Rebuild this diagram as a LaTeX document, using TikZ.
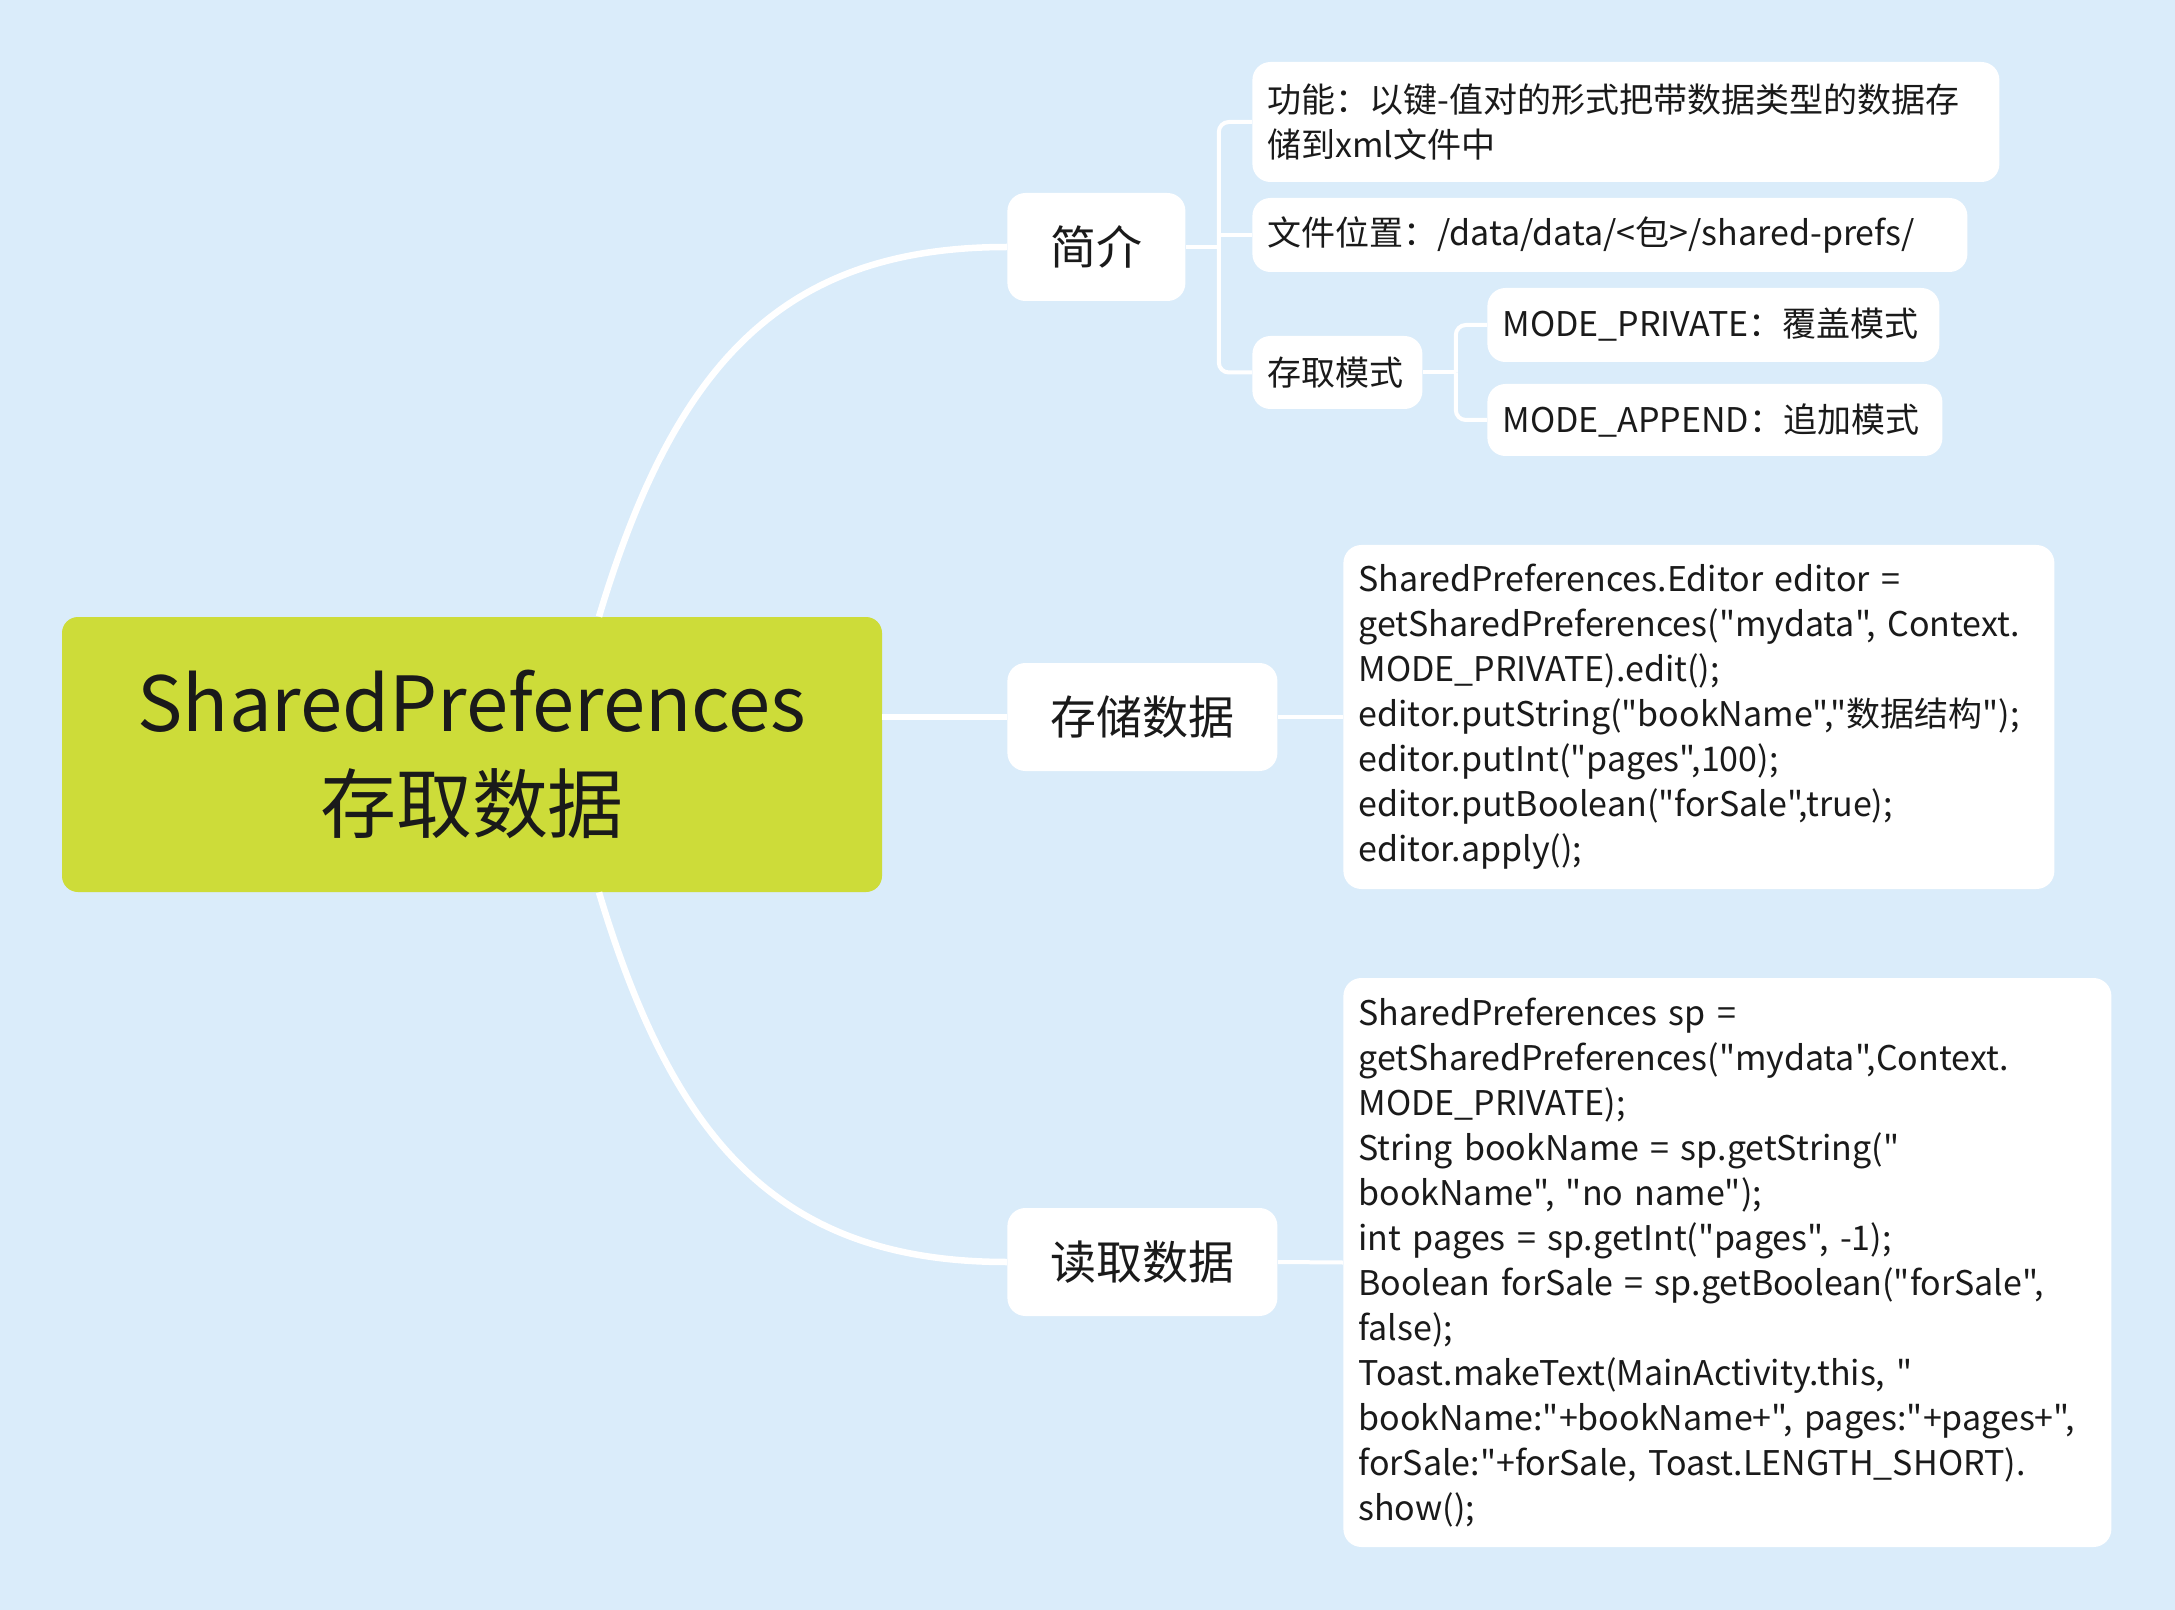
\documentclass[tikz,border=0pt]{standalone}
\usepackage{fontspec}
\newfontfamily\notosc{Noto Sans CJK SC}
\usetikzlibrary{positioning}
\definecolor{bgblue}{RGB}{218,236,250}
\definecolor{rootgreen}{RGB}{205,220,57}
\definecolor{inkgray}{RGB}{26,26,26}
\hyphenpenalty=10000
\exhyphenpenalty=10000

\begin{document}
\begin{tikzpicture}[x=0.5pt, y=-0.5pt,
    rootbox/.style={fill=rootgreen, rounded corners=8pt, text=inkgray, align=center,
        font=\notosc\fontsize{38pt}{50.5pt}\selectfont, minimum width=410pt, minimum height=137.5pt},
    topicbox/.style={fill=white, rounded corners=9pt, text=inkgray, anchor=west,
        font=\notosc\fontsize{23pt}{28pt}\selectfont, inner xsep=21.5pt, minimum height=54pt},
    leafbox/.style={fill=white, rounded corners=9pt, text=inkgray, anchor=west, align=left,
        font=\notosc\fontsize{17pt}{22.5pt}\selectfont, inner xsep=7.5pt, inner ysep=6pt},
    mainline/.style={draw=white, line width=3.25pt},
    subline/.style={draw=white, line width=2pt}
]
    % canvas, 1 unit = one pixel of the reference
    \fill[bgblue] (0,0) rectangle (2175,1610);
    \useasboundingbox (0,0) rectangle (2175,1610);

    % central topic
    \node[rootbox] (root) at (472,754.5) {SharedPreferences\\存取数据};

    % main branches
    \node[topicbox] (intro) at (1007,247) {简介};
    \node[topicbox] (store) at (1007,717) {存储数据};
    \node[topicbox] (read) at (1007,1262) {读取数据};

    % leaves of 简介
    \node[leafbox, text width=358.5pt, minimum height=60pt] (func) at (1252,122)
        {功能：以键-值对的形式把带数据类型的数据存\\储到xml文件中};
    \node[leafbox, text width=342.5pt, minimum height=37pt] (loc) at (1252,235)
        {文件位置：/data/data/<包>/shared-prefs/};
    \node[leafbox, text width=70pt, minimum height=36.5pt] (mode) at (1252,372.5) {存取模式};
    \node[leafbox, text width=211pt, minimum height=37pt] (priv) at (1487,325)
        {MODE\_PRIVATE：覆盖模式};
    \node[leafbox, text width=212.5pt, minimum height=36pt] (append) at (1487,420)
        {MODE\_APPEND：追加模式};

    % code blocks
    \node[leafbox, text width=340.5pt, minimum height=172pt] (putcode) at (1343,717)
        {SharedPreferences.Editor editor =\\
         getSharedPreferences("mydata", Context.\\
         MODE\_PRIVATE).edit();\\
         editor.putString("bookName","数据结构");\\
         editor.putInt("pages",100);\\
         editor.putBoolean("forSale",true);\\
         editor.apply();};
    \node[leafbox, text width=369pt, minimum height=284.5pt] (getcode) at (1343,1262.5)
        {SharedPreferences sp =\\
         getSharedPreferences("mydata",Context.\\
         MODE\_PRIVATE);\\
         String bookName = sp.getString("\\
         bookName", "no name");\\
         int pages = sp.getInt("pages", -1);\\
         Boolean forSale = sp.getBoolean("forSale",\\
         false);\\
         Toast.makeText(MainActivity.this, "\\
         bookName:"+bookName+", pages:"+pages+",\\
         forSale:"+forSale, Toast.LENGTH\_SHORT).\\
         show();};

    % root to branches
    \draw[mainline] ([xshift=63.5pt]root.north) .. controls +(37.5pt,125pt) and +(-113.5pt,0pt) .. (intro.west);
    \draw[mainline] ([xshift=63.5pt]root.south) .. controls +(37.5pt,-125pt) and +(-113.5pt,0pt) .. (read.west);
    \draw[mainline] (root.east |- store.west) -- (store.west);

    % brackets
    \coordinate (j1) at ([xshift=16.5pt]intro.east);
    \draw[subline] (intro.east) -- (j1);
    \draw[subline, rounded corners=5pt] (j1) |- (func.west);
    \draw[subline] (j1 |- loc.west) -- (loc.west);
    \draw[subline, rounded corners=5pt] (j1) |- (mode.west);
    \coordinate (j2) at ([xshift=16.5pt]mode.east);
    \draw[subline] (mode.east) -- (j2);
    \draw[subline, rounded corners=5pt] (j2) |- (priv.west);
    \draw[subline, rounded corners=5pt] (j2) |- (append.west);
    \draw[subline] (store.east) -- (putcode.west);
    \draw[subline] (read.east) -- (getcode.west);
\end{tikzpicture}
\end{document}
